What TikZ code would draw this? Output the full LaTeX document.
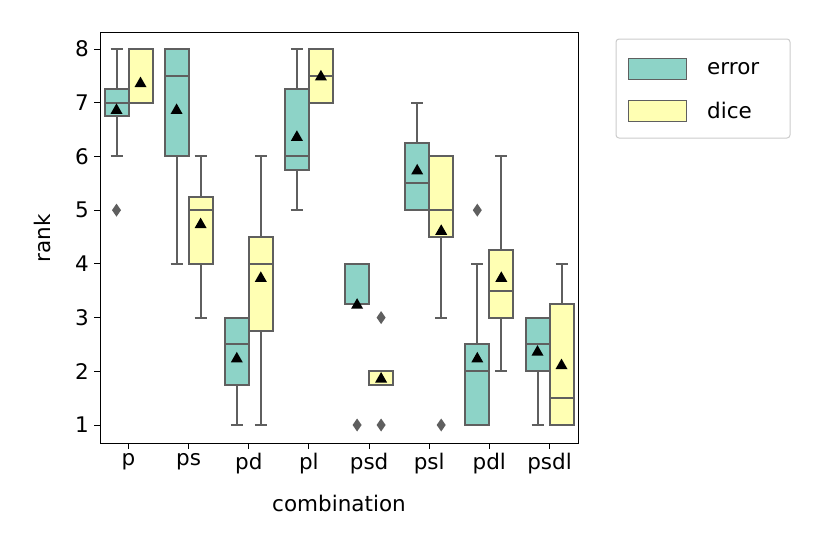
\documentclass[tikz,border=0pt]{standalone}
\usepackage{fontspec}
\setmainfont{DejaVu Sans}
\definecolor{err}{HTML}{8DD3C7}
\definecolor{dic}{HTML}{FFFFB3}
\definecolor{edge}{HTML}{5F5F5F}
\tikzset{
 boxst/.style={draw=edge,line width=2pt},
 whisk/.style={draw=edge,line width=2pt},
 lab/.style={font=\fontsize{21.5}{25}\selectfont,inner sep=2pt},
}
\newcommand\bx[8]{%
 \draw[whisk] (#1+12,#2-1)--(#1+12,#3-1) (#1+12,#5-1)--(#1+12,#6-1)
   (#1+6,#2-1)--(#1+18,#2-1) (#1+6,#6-1)--(#1+18,#6-1);
 \filldraw[boxst,fill=#8] (#1,#3-1) rectangle (#1+24,#5-1);
 \draw[boxst] (#1,#4-1)--(#1+24,#4-1);
 \fill (#1+12,#7-1) ++(0pt,6pt) -- ++(-6pt,-10.5pt) -- ++(12pt,0pt) -- cycle;
}
\newcommand\dia[2]{\fill[edge] (#1,#2-1) +(0pt,6.5pt)--+(4.5pt,0pt)--+(0pt,-6.5pt)--+(-4.5pt,0pt)--cycle;}
\begin{document}
\begin{tikzpicture}[x=1pt,y=1pt]
\useasboundingbox (0,0) rectangle (830,-554);
\fill[white] (0,0) rectangle (830,-554);
\begin{scope}[y=53.714pt,shift={(0pt,-425pt)}]
\bx{104.5}{6}{6.75}{7}{7.25}{8}{6.875}{err}\dia{116.5}{5}
\bx{128.5}{7}{7}{8}{8}{8}{7.375}{dic}
\bx{164.6}{4}{6}{7.5}{8}{8}{6.875}{err}
\bx{188.6}{3}{4}{5}{5.25}{6}{4.75}{dic}
\bx{224.8}{1}{1.75}{2.5}{3}{3}{2.25}{err}
\bx{248.8}{1}{2.75}{4}{4.5}{6}{3.75}{dic}
\bx{284.9}{5}{5.75}{6}{7.25}{8}{6.375}{err}
\bx{308.9}{7}{7}{7.5}{8}{8}{7.5}{dic}
\bx{345.1}{4}{3.25}{4}{4}{4}{3.25}{err}\dia{357.1}{1}
\bx{369.1}{1.75}{1.75}{2}{2}{2}{1.875}{dic}\dia{381.1}{3}\dia{381.1}{1}
\bx{405.2}{5}{5}{5.5}{6.25}{7}{5.75}{err}
\bx{429.2}{3}{4.5}{5}{6}{6}{4.625}{dic}\dia{441.2}{1}
\bx{465.3}{1}{1}{2}{2.5}{4}{2.25}{err}\dia{477.3}{5}
\bx{489.3}{2}{3}{3.5}{4.25}{6}{3.75}{dic}
\bx{525.5}{1}{2}{2.5}{3}{3}{2.375}{err}
\bx{549.5}{1}{1}{1.5}{3.25}{4}{2.125}{dic}
\foreach \v in {1,...,8}{
 \draw[line width=1pt] (100,\v-1) -- (94,\v-1);
 \node[lab,anchor=east] at (91,\v-1) {\v};
}
\end{scope}
\draw[line width=1pt] (100,-32) rectangle (578,-443);
\foreach \x/\t in {128.5/p,188.6/ps,248.8/pd,308.9/pl,369.1/psd,429.2/psl,489.3/pdl,549.5/psdl}{
 \draw[line width=1pt] (\x,-443) -- (\x,-449);
 \node[lab,anchor=north] at (\x,-451) {\t};
}
\node[lab,rotate=90] (yl) at (42,-238) {rank};
\node[lab] (xl) at (339,-503) {combination};
\draw[draw=black!20,line width=1pt,rounded corners=3pt,fill=white] (616,-39) rectangle (790,-138);
\filldraw[draw=edge,line width=1pt,fill=err] (628,-58) rectangle (686,-79);
\filldraw[draw=edge,line width=1pt,fill=dic] (628,-100) rectangle (686,-121);
\node[lab,anchor=west] (l1) at (705,-68.5) {error};
\node[lab,anchor=west] (l2) at (705,-110.5) {dice};
\end{tikzpicture}
\end{document}
